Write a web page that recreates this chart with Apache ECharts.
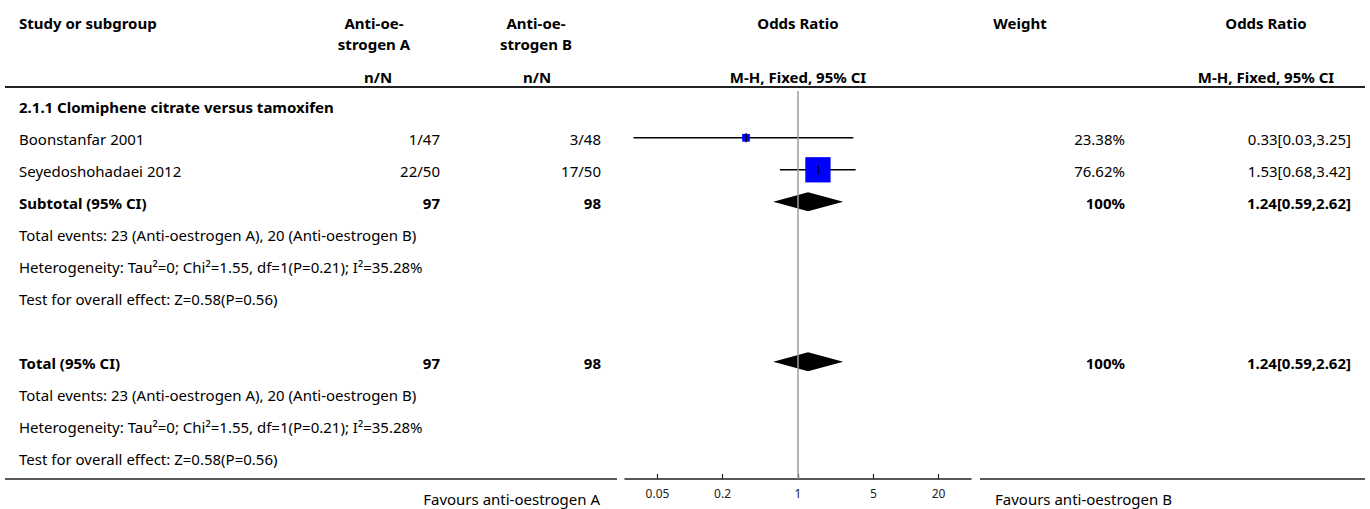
<!DOCTYPE html>
<html><head><meta charset="utf-8">
<script src="https://cdn.jsdelivr.net/npm/echarts@6/dist/echarts.min.js"></script>
<style>html,body{margin:0;padding:0;background:#fff}#c{width:1370px;height:509px}</style>
</head><body><div id="c"></div>
<script>
// ---------------- data ----------------
const subgroupTitle = '2.1.1 Clomiphene citrate versus tamoxifen';
const studies = ['Boonstanfar 2001', 'Seyedoshohadaei 2012'];
const eventsA = ['1/47', '22/50'];
const eventsB = ['3/48', '17/50'];
const oddsRatio = [0.33, 1.53];
const ciLower = [0.03, 0.68];
const ciUpper = [3.25, 3.42];
const weights = [23.38, 76.62];
const pooledLabels = ['Subtotal (95% CI)', 'Total (95% CI)'];
const pooledTotalA = ['97', '97'];
const pooledTotalB = ['98', '98'];
const pooledOR = [1.24, 1.24];
const pooledLower = [0.59, 0.59];
const pooledUpper = [2.62, 2.62];
const pooledWeight = ['100%', '100%'];
const summaryLines = [
  'Total events: 23 (Anti-oestrogen A), 20 (Anti-oestrogen B)',
  'Heterogeneity: Tau\u00b2=0; Chi\u00b2=1.55, df=1(P=0.21); I\u00b2=35.28%',
  'Test for overall effect: Z=0.58(P=0.56)'
];
const tickValues = [0.05, 0.2, 1, 5, 20];
const tickLabels = ['0.05', '0.2', '1', '5', '20'];
const axisRange = [0.025, 40];
const favoursLabels = ['Favours anti-oestrogen A', 'Favours anti-oestrogen B'];

// ---------------- layout ----------------
const FONT = '"Noto Sans", "Open Sans", sans-serif';
const FS = 15;
const COLS = {
  name: { x: 19, align: 'left' },
  a: { x: 440, align: 'right' },
  b: { x: 601, align: 'right' },
  w: { x: 1125, align: 'right' },
  or: { x: 1351, align: 'right' }
};
const fmt = v => v.toFixed(2);
const orText = (o, l, u) => fmt(o) + '[' + fmt(l) + ',' + fmt(u) + ']';

// build table rows
const tableRows = [];
let r = 0;
tableRows.push({ row: r++, cells: [{ col: 'name', text: subgroupTitle, bold: true }] });
const studyRows = [];
studies.forEach((s, i) => {
  studyRows.push(r);
  tableRows.push({ row: r++, cells: [
    { col: 'name', text: s }, { col: 'a', text: eventsA[i] }, { col: 'b', text: eventsB[i] },
    { col: 'w', text: fmt(weights[i]) + '%' }, { col: 'or', text: orText(oddsRatio[i], ciLower[i], ciUpper[i]) }
  ] });
});
const pooledRows = [];
pooledLabels.forEach((lab, k) => {
  if (k > 0) r++; // blank spacer row
  pooledRows.push(r);
  tableRows.push({ row: r++, cells: [
    { col: 'name', text: lab, bold: true }, { col: 'a', text: pooledTotalA[k], bold: true },
    { col: 'b', text: pooledTotalB[k], bold: true }, { col: 'w', text: pooledWeight[k], bold: true },
    { col: 'or', text: orText(pooledOR[k], pooledLower[k], pooledUpper[k]), bold: true }
  ] });
  summaryLines.forEach(t => tableRows.push({ row: r++, cells: [{ col: 'name', text: t }] }));
});

const L = Math.log10;
const chart = echarts.init(document.getElementById('c'), null, { renderer: 'svg' });

const headerText = (text, x, y, align) => ({
  type: 'text', silent: true,
  style: { x, y, text, align, verticalAlign: 'middle', fill: '#000', font: 'bold ' + FS + 'px ' + FONT }
});
const rule = (x1, x2, y, w) => ({
  type: 'line', silent: true, shape: { x1, y1: y, x2, y2: y },
  style: { stroke: '#222', lineWidth: w }
});

chart.setOption({
  animation: false,
  backgroundColor: '#fff',
  grid: { left: 625, width: 346, top: 91, height: 388 },
  xAxis: {
    type: 'value', min: L(axisRange[0]), max: L(axisRange[1]),
    splitLine: { show: false },
    axisLine: { show: true, onZero: false, lineStyle: { color: '#222', width: 1.5 } },
    axisTick: { show: true, inside: true, length: 5, customValues: tickValues.map(L), lineStyle: { color: '#222', width: 1.2 } },
    axisLabel: {
      customValues: tickValues.map(L), margin: 8, fontSize: 12, color: '#222', fontFamily: FONT,
      formatter: v => {
        let best = 0;
        tickValues.forEach((t, i) => { if (Math.abs(L(t) - v) < Math.abs(L(tickValues[best]) - v)) best = i; });
        return tickLabels[best];
      }
    }
  },
  yAxis: { type: 'value', inverse: true, min: -0.4625, max: 11.6625, show: false },
  graphic: [
    headerText('Study or subgroup', 19, 23, 'left'),
    headerText('Anti-oe-', 374, 23, 'center'),
    headerText('strogen A', 374, 44, 'center'),
    headerText('n/N', 378, 77, 'center'),
    headerText('Anti-oe-', 536, 23, 'center'),
    headerText('strogen B', 536, 44, 'center'),
    headerText('n/N', 537, 77, 'center'),
    headerText('Odds Ratio', 798, 23, 'center'),
    headerText('M-H, Fixed, 95% CI', 798, 77, 'center'),
    headerText('Weight', 1020, 23, 'center'),
    headerText('Odds Ratio', 1266, 23, 'center'),
    headerText('M-H, Fixed, 95% CI', 1266, 77, 'center'),
    rule(5, 1365, 87, 2),
    rule(5, 617, 479, 1.5),
    rule(980, 1365, 479, 1.5),
    { type: 'text', silent: true, style: { x: 600, y: 499, text: favoursLabels[0], align: 'right', verticalAlign: 'middle', fill: '#000', font: FS + 'px ' + FONT } },
    { type: 'text', silent: true, style: { x: 995, y: 499, text: favoursLabels[1], align: 'left', verticalAlign: 'middle', fill: '#000', font: FS + 'px ' + FONT } }
  ],
  series: [
    {
      type: 'custom', name: 'table', clip: false, silent: true,
      data: tableRows.map((row, i) => [0, row.row, i]),
      renderItem: (params, api) => {
        const y = api.coord([0, api.value(1)])[1] + 1;
        const row = tableRows[api.value(2)];
        return {
          type: 'group',
          children: row.cells.map(c => ({
            type: 'text',
            style: {
              x: COLS[c.col].x, y, text: c.text, align: COLS[c.col].align, verticalAlign: 'middle',
              fill: '#000', font: (c.bold ? 'bold ' : '') + FS + 'px ' + FONT
            }
          }))
        };
      },
      markLine: {
        silent: true, symbol: ['none', 'none'], label: { show: false },
        lineStyle: { color: '#9a9a9a', width: 1.5, type: 'solid' },
        data: [{ xAxis: 0 }]
      }
    },
    {
      type: 'custom', name: 'studies', clip: false, silent: true,
      data: studies.map((s, i) => [L(ciLower[i]), L(ciUpper[i]), L(oddsRatio[i]), studyRows[i], weights[i]]),
      renderItem: (params, api) => {
        const row = api.value(3);
        const p1 = api.coord([api.value(0), row]);
        const p2 = api.coord([api.value(1), row]);
        const pc = api.coord([api.value(2), row]);
        const size = api.value(4) * 0.33;
        return {
          type: 'group',
          children: [
            { type: 'line', shape: { x1: p1[0], y1: p1[1], x2: p2[0], y2: p2[1] }, style: { stroke: '#000', lineWidth: 1.5 } },
            { type: 'rect', shape: { x: pc[0] - size / 2, y: pc[1] - size / 2, width: size, height: size }, style: { fill: '#0000ff' } },
            { type: 'line', shape: { x1: pc[0], y1: pc[1] - 4.5, x2: pc[0], y2: pc[1] + 4.5 }, style: { stroke: '#000', lineWidth: 1.5 } }
          ]
        };
      }
    },
    {
      type: 'custom', name: 'pooled', clip: false, silent: true,
      data: pooledRows.map((row, k) => [L(pooledLower[k]), L(pooledUpper[k]), L(pooledOR[k]), row]),
      renderItem: (params, api) => {
        const row = api.value(3);
        const pl = api.coord([api.value(0), row]);
        const ph = api.coord([api.value(1), row]);
        const pc = api.coord([api.value(2), row]);
        const h = 9.5;
        return {
          type: 'polygon',
          shape: { points: [[pl[0], pl[1]], [pc[0], pc[1] - h], [ph[0], ph[1]], [pc[0], pc[1] + h]] },
          style: { fill: '#000' }
        };
      }
    }
  ]
});
</script>
</body></html>
